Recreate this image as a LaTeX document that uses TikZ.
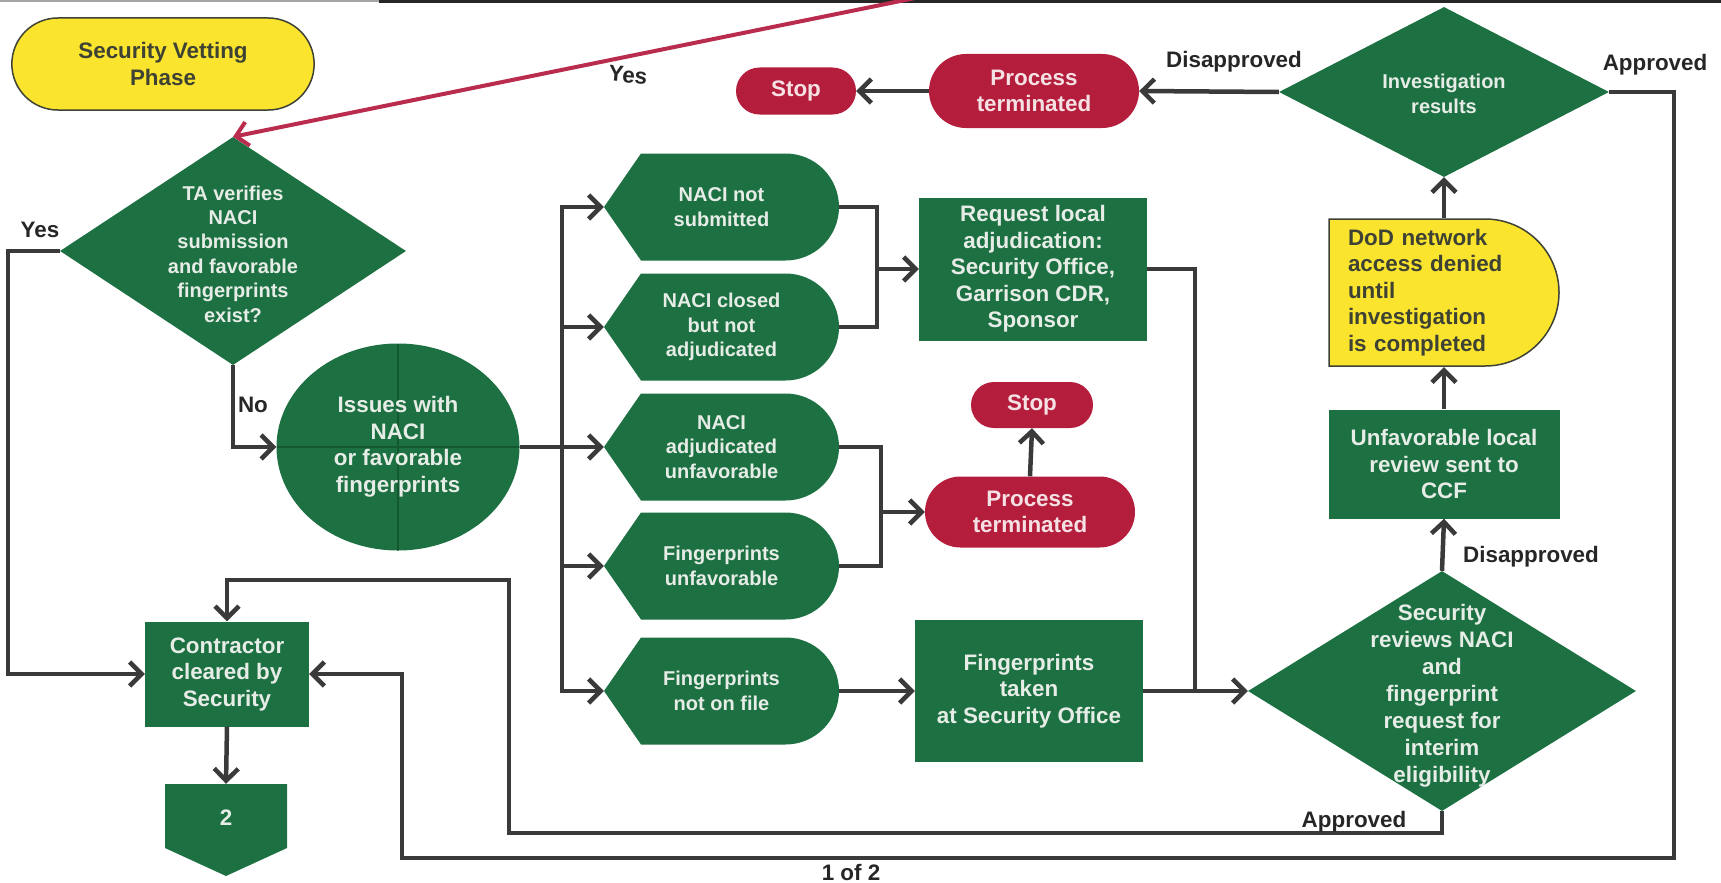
\documentclass[tikz,border=0pt]{standalone}
\usepackage{fontspec}
\setmainfont{Liberation Sans}
\usetikzlibrary{shapes.geometric,shapes.misc,arrows.meta}

\definecolor{vgreen}{RGB}{28,112,66}
\definecolor{vdkgreen}{RGB}{20,88,50}
\definecolor{vred}{RGB}{180,30,60}
\definecolor{vredline}{RGB}{186,44,78}
\definecolor{vyellow}{RGB}{250,228,45}
\definecolor{vline}{RGB}{58,58,58}
\definecolor{vpale}{RGB}{230,236,230}
\definecolor{vpink}{RGB}{245,225,228}
\definecolor{vdark}{RGB}{62,66,52}

\newcommand{\vetbig}{\fontsize{22.4}{26.5}\selectfont\bfseries}
\newcommand{\vetsmall}{\fontsize{20}{24.4}\selectfont\bfseries}

\begin{document}
\begin{tikzpicture}[x=1pt,y=-1pt,
  box/.style={rectangle, fill=vgreen, text=vpale, font=\vetbig, align=center, inner sep=2pt},
  stopbox/.style={rounded rectangle, fill=vred, text=vpink, font=\vetbig, align=center, inner sep=2pt},
  phasebox/.style={rounded rectangle, fill=vyellow, draw=vdark, line width=1.5pt, text=vdark, font=\vetbig, align=center},
  decision/.style={diamond, fill=vgreen, inner sep=0pt},
  dtext/.style={text=vpale, align=center},
  issue/.style={ellipse, fill=vgreen, minimum width=243pt, minimum height=207pt, inner sep=0pt,
    text=vpale, font=\vetbig, align=center,
    path picture={\draw[vdkgreen, line width=1.5pt]
      (path picture bounding box.north) -- (path picture bounding box.south)
      (path picture bounding box.west) -- (path picture bounding box.east);}},
  dispbox/.style={rectangle, draw, draw opacity=0, minimum width=235pt, minimum height=107pt,
    inner sep=0pt, text=vpale, font=\vetsmall, align=center,
    path picture={\fill[vgreen] (path picture bounding box.west)
      -- ([xshift=37pt]path picture bounding box.north west)
      -- ([xshift=-53.5pt]path picture bounding box.north east)
      arc[start angle=90, end angle=-90, radius=53.5pt]
      -- ([xshift=37pt]path picture bounding box.south west) -- cycle;}},
  delaybox/.style={rectangle, draw, draw opacity=0, minimum width=232pt, minimum height=149pt,
    text width=192pt, inner sep=0pt, text=vdark, font=\vetbig, align=left,
    path picture={\filldraw[fill=vyellow, draw=vdark, draw opacity=1, line width=1.5pt]
      ([xshift=1pt,yshift=-1pt]path picture bounding box.north west)
      -- ([xshift=-75pt,yshift=-1pt]path picture bounding box.north east)
      arc[start angle=90, end angle=-90, x radius=74pt, y radius=73.5pt]
      -- ([xshift=1pt,yshift=1pt]path picture bounding box.south west) -- cycle;}},
  pagebox/.style={rectangle, draw, draw opacity=0, minimum width=122pt, minimum height=92pt, inner sep=0pt,
    path picture={\fill[vgreen] (path picture bounding box.north west)
      -- (path picture bounding box.north east)
      -- ([yshift=28pt]path picture bounding box.south east)
      -- (path picture bounding box.south)
      -- ([yshift=28pt]path picture bounding box.south west) -- cycle;}},
  conn/.style={draw=vline, line width=4.5pt},
  arr/.style={conn, -{Straight Barb[length=12pt,width=24pt]}},
  lbl/.style={font=\vetbig, text=black!85}]

\useasboundingbox (0,0) rectangle (1721,883);
\draw[gray!70, line width=2pt] (0,1.5) -- (379,1.5);
\draw[black!85, line width=3pt] (379,1.5) -- (1721,1.5);

\node[phasebox, minimum width=309pt, minimum height=92pt] (vet) at (163,64) {Security Vetting\\Phase};
\node[decision, minimum width=346pt, minimum height=228pt] (tav) at (233,251) {};
\node[dtext, font=\vetsmall] (tav-t) at (233,254) {TA verifies\\NACI\\submission\\and favorable\\fingerprints\\exist?};
\node[issue] (iss) at (398,447) {Issues with\\NACI\\or favorable\\fingerprints};
\node[dispbox] (d1) at (721.5,207) {NACI not\\submitted};
\node[dispbox] (d2) at (721.5,327) {NACI closed\\but not\\adjudicated};
\node[dispbox] (d3) at (721.5,447) {NACI\\adjudicated\\unfavorable};
\node[dispbox] (d4) at (721.5,566) {Fingerprints\\unfavorable};
\node[dispbox] (d5) at (721.5,691) {Fingerprints\\not on file};
\node[box, minimum width=228pt, minimum height=143pt] (req) at (1033,269) {Request local\\adjudication:\\Security Office,\\Garrison CDR,\\Sponsor};
\node[box, minimum width=228pt, minimum height=142pt] (fpt) at (1029,691) {Fingerprints\\taken\\at Security Office};
\node[stopbox, minimum width=124pt, minimum height=47pt] (stop1) at (796,91) {Stop};
\node[stopbox, minimum width=214pt, minimum height=74pt] (term1) at (1034,91) {Process\\terminated};
\node[stopbox, minimum width=126pt, minimum height=46pt] (stop2) at (1032,405) {Stop};
\node[stopbox, minimum width=214pt, minimum height=71pt] (term2) at (1030,512) {Process\\terminated};
\node[decision, minimum width=330pt, minimum height=170pt] (inv) at (1444,92) {};
\node[dtext, font=\vetsmall] (inv-t) at (1444,94) {Investigation\\results};
\node[delaybox] (dod) at (1444,292.5) {DoD network\\access denied\\until\\investigation\\is completed};
\node[box, minimum width=231pt, minimum height=109pt] (unf) at (1444,464) {Unfavorable local\\review sent to\\CCF};
\node[decision, minimum width=388pt, minimum height=240pt] (sec) at (1442,691) {};
\node[dtext, font=\fontsize{22.4}{27}\selectfont\bfseries] (sec-t) at (1442,696) {Security\\reviews NACI\\and\\fingerprint\\request for\\interim\\eligibility};
\node[box, minimum width=164pt, minimum height=105pt] (con) at (227,674) {Contractor\\cleared by\\Security};
\node[pagebox] (pg2) at (226,830) {};
\node[font=\vetbig, text=vpale] (pg2-t) at (226,818) {2};

\coordinate (redtop) at (925,-4);
\draw[arr, draw=vredline, line width=4pt] (redtop) -- (tav.north);
\draw[arr] (tav.west) -- ++(-52,0) |- (con.west);
\draw[arr] (tav.south) |- (iss.west);
\coordinate (bus) at (562,447);
\draw[arr] (iss.east) -- (d3.west);
\draw[arr] (bus) |- (d1.west);
\draw[arr] (bus) |- (d5.west);
\draw[arr] (d2.west -| bus) -- (d2.west);
\draw[arr] (d4.west -| bus) -- (d4.west);
\coordinate (j1) at (877,269);
\draw[conn] (d1.east) -| (j1) |- (d2.east);
\draw[arr] (j1) -- (req.west);
\coordinate (j2) at (881,512);
\draw[conn] (d3.east) -| (j2) |- (d4.east);
\draw[arr] (j2) -- (term2.west);
\draw[arr] (term2.north) -- (stop2.south);
\draw[arr] (d5.east) -- (fpt.west);
\coordinate (j3) at (1195,691);
\draw[conn] (req.east) -| (j3);
\draw[arr] (fpt.east) -- (sec.west);
\draw[arr] (sec.north) -- (unf.south);
\draw[arr] (unf.north) -- (dod.south);
\draw[arr] (dod.north) -- (inv.south);
\draw[arr] (inv.west) -- (term1.east);
\draw[arr] (term1.west) -- (stop1.east);
\coordinate (r1) at (1674,858);
\coordinate (r2) at (402,858);
\draw[arr] (inv.east) -| (r1) -- (r2) |- (con.east);
\coordinate (r3) at (509,833);
\coordinate (r4) at (509,580);
\draw[arr] (sec.south) |- (r3) -- (r4) -| (con.north);
\draw[arr] (con.south) -- (pg2.north);

\node[lbl] (yes1) at (40,230) {Yes};
\node[lbl] (no1) at (253,405) {No};
\node[lbl, rotate=-5] (yes2) at (628,75) {Yes};
\node[lbl] (dis1) at (1234,62) {Disapproved};
\node[lbl] (app1) at (1655,65) {Approved};
\node[lbl] (dis2) at (1531,557) {Disapproved};
\node[lbl] (app2) at (1354,822) {Approved};
\node[lbl, anchor=base] (pgno) at (851,880) {1 of 2};
\end{tikzpicture}
\end{document}
